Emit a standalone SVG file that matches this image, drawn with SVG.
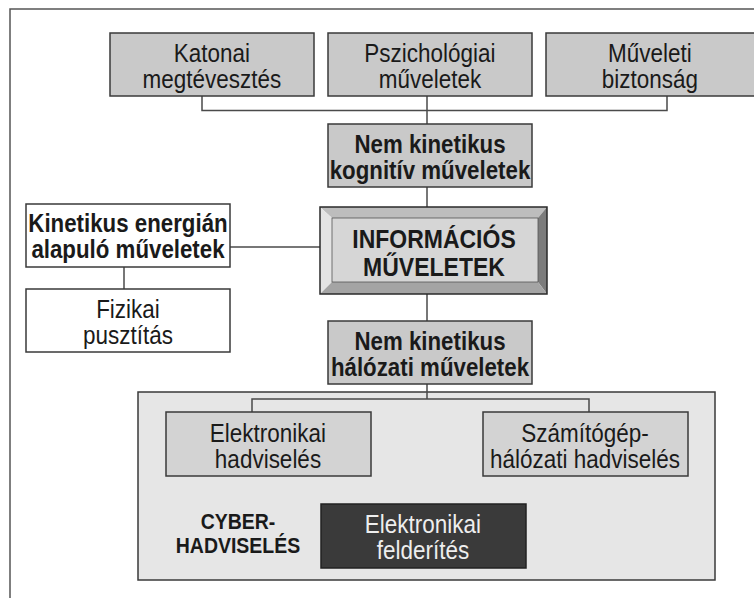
<svg xmlns="http://www.w3.org/2000/svg" width="754" height="598" viewBox="0 0 754 598">
<style>
text{font-family:"Liberation Sans",Arial,sans-serif;font-size:22.5px;text-anchor:middle;fill:#1a1a1a;transform-box:fill-box;transform-origin:center;transform:scaleY(1.12)}
.b{font-weight:bold;font-size:22.3px}
.box{fill:#c9c9c9;stroke:#3a3a3a;stroke-width:1.5}
.wbox{fill:#ffffff;stroke:#3a3a3a;stroke-width:1.5}
.lbox{fill:#d3d3d3;stroke:#3a3a3a;stroke-width:1.5}
.conn{fill:none;stroke:#4a4a4a;stroke-width:1.5}
</style>
<rect width="754" height="598" fill="#ffffff"/>
<rect x="10" y="9" width="760" height="600" fill="none" stroke="#555" stroke-width="1.5"/>
<g id="cyber">
<rect x="138" y="392" width="577" height="188" fill="#e6e6e6" stroke="#3a3a3a" stroke-width="1.5"/>
<text class="b" style="font-size:19.5px" x="238" y="528">CYBER-</text>
<text class="b" style="font-size:19.5px" x="238" y="552">HADVISELÉS</text>
</g>
<g id="connectors">
<polyline class="conn" points="202,96 202,110.5 667,110.5 667,96"/>
<line class="conn" x1="427" y1="96" x2="427" y2="124"/>
<line class="conn" x1="427" y1="187" x2="427" y2="207"/>
<line class="conn" x1="230" y1="247" x2="320" y2="247"/>
<line class="conn" x1="124" y1="267" x2="124" y2="289"/>
<line class="conn" x1="427" y1="294" x2="427" y2="321"/>
<line class="conn" x1="427" y1="384" x2="427" y2="399"/>
<polyline class="conn" points="252,412 252,399 589,399 589,412"/>
</g>
<g id="katonai">
<rect class="box" x="110" y="33" width="204" height="63"/>
<text x="212" y="61">Katonai</text>
<text x="212" y="87">megtévesztés</text>
</g>
<g id="pszichologiai">
<rect class="box" x="328" y="33" width="204" height="63"/>
<text x="430" y="61">Pszichológiai</text>
<text x="430" y="87">műveletek</text>
</g>
<g id="muveleti">
<rect class="box" x="546" y="33" width="210" height="63"/>
<text x="650" y="61">Műveleti</text>
<text x="650" y="87">biztonság</text>
</g>
<g id="kognitiv">
<rect class="box" x="328" y="124" width="204" height="63"/>
<text class="b" x="430" y="152">Nem kinetikus</text>
<text class="b" x="430" y="178">kognitív műveletek</text>
</g>
<g id="informacios">
<polygon points="320,207 547,207 538,218 332,218" fill="#bdbdbd"/>
<polygon points="320,207 332,218 332,282 320,294" fill="#e4e4e4"/>
<polygon points="547,207 547,294 538,282 538,218" fill="#7c7c7c"/>
<polygon points="320,294 332,282 538,282 547,294" fill="#a4a4a4"/>
<rect x="332" y="218" width="206" height="64" fill="#d6d6d6" stroke="#555" stroke-width="0.8"/>
<rect x="320" y="207" width="227" height="87" fill="none" stroke="#2a2a2a" stroke-width="1.5"/>
<text class="b" style="font-size:23px" x="434" y="247">INFORMÁCIÓS</text>
<text class="b" style="font-size:23px" x="434" y="275">MŰVELETEK</text>
</g>
<g id="kinetikus">
<rect class="wbox" x="26" y="204" width="204" height="63"/>
<text class="b" x="128" y="231">Kinetikus energián</text>
<text class="b" x="128" y="257">alapuló műveletek</text>
</g>
<g id="fizikai">
<rect class="wbox" x="26" y="289" width="204" height="63"/>
<text x="128" y="317">Fizikai</text>
<text x="128" y="343">pusztítás</text>
</g>
<g id="halozati">
<rect class="box" x="328" y="321" width="204" height="63"/>
<text class="b" x="430" y="349">Nem kinetikus</text>
<text class="b" x="430" y="375">hálózati műveletek</text>
</g>
<g id="elektronikai-hadviseles">
<rect class="lbox" x="166" y="412" width="205" height="64"/>
<text x="268" y="441">Elektronikai</text>
<text x="268" y="467">hadviselés</text>
</g>
<g id="szamitogep">
<rect class="lbox" x="483" y="412" width="205" height="64"/>
<text x="585" y="441">Számítógép-</text>
<text x="585" y="467">hálózati hadviselés</text>
</g>
<g id="felderites">
<rect x="321" y="504" width="205" height="64" fill="#3a3a3a" stroke="#222" stroke-width="1.5"/>
<text x="423" y="532" style="fill:#eeeeee">Elektronikai</text>
<text x="423" y="558" style="fill:#eeeeee">felderítés</text>
</g>
</svg>
